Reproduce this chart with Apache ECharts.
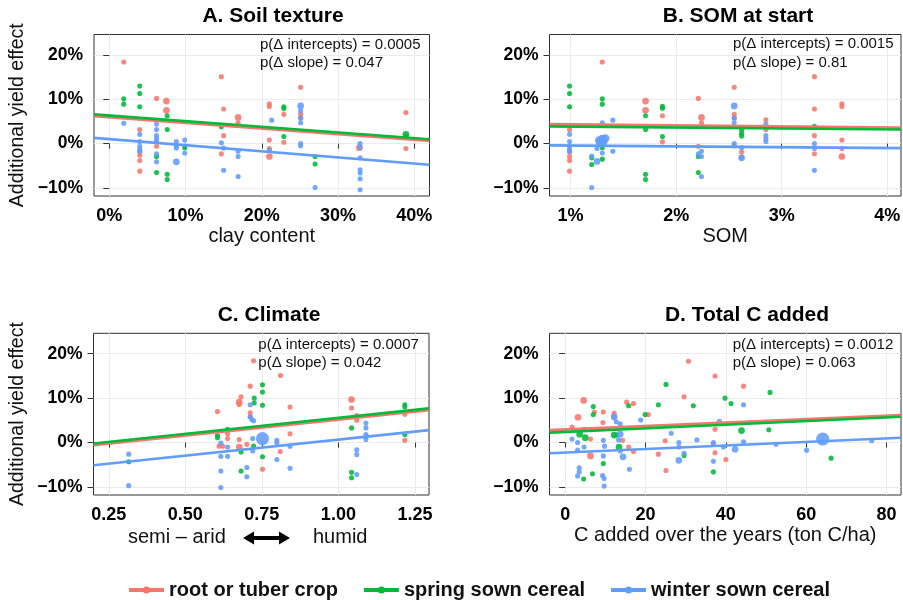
<!DOCTYPE html>
<html>
<head>
<meta charset="utf-8">
<script src="https://cdn.jsdelivr.net/npm/echarts@6/dist/echarts.min.js"></script>
<style>
  html, body { margin: 0; padding: 0; background: #fff; }
  #chart { width: 903px; height: 600px; }
</style>
</head>
<body>
<div id="chart"></div>
<script>
// ---- groups ----
const groupNames = ['root or tuber crop', 'spring sown cereal', 'winter sown cereal'];
const groupColors = ['#F8766D', '#00BA38', '#619CFF'];

// ---- shared y scale (additional yield effect, %) ----
const yRange = [-11.8, 24.6];
const yTicks = [-10, 0, 10, 20];

// ---- A. Soil texture: [clay %, yield effect %, weight] ----
const clayRoot = [[1.9,18.4,1],[14.7,15.1,1],[25.1,12.7,1],[21.0,9.0,1],[21.0,8.4,1],[7.5,9.6,2],[7.5,7.5,2],[6.2,10.2,1],[15.0,7.8,1],[16.9,5.9,2],[16.9,4.7,1],[22.9,6.6,1],[25.1,6.6,1],[25.1,5.9,1],[38.9,7.0,1],[4.0,3.2,1],[4.0,-1.9,1],[4.0,-2.6,1],[4.0,-3.8,1],[4.0,-6.2,1],[6.2,-0.6,1],[15.0,1.8,1],[14.7,-2.3,1],[21.0,0.8,1],[21.0,-1.1,1],[21.0,-2.9,2],[22.9,0.3,1],[38.9,-1.1,1],[32.8,-0.9,2]];
const claySpring = [[4.0,13.0,1],[4.0,11.3,1],[4.0,8.3,1],[1.9,10.1,1],[1.9,8.9,1],[7.6,6.3,1],[7.6,3.2,1],[6.2,-2.9,1],[6.2,-6.5,1],[7.6,-6.9,1],[7.6,-8.1,1],[9.9,-0.9,1],[14.7,3.8,1],[22.9,8.3,1],[22.9,7.9,1],[22.9,1.6,1],[27.0,-2.9,1],[27.0,-4.6,1],[38.9,2.1,2],[38.9,1.7,1]];
const clayWinter = [[1.9,4.6,1],[4.0,2.1,1],[4.0,0.5,1],[4.0,-0.6,1],[4.0,-1.3,1],[4.0,-1.7,1],[6.2,4.4,1],[6.2,3.2,1],[6.2,1.8,1],[6.2,1.1,1],[6.2,0.5,1],[6.2,-2.3,1],[6.2,-4.1,1],[8.8,0.5,1],[8.8,-0.4,1],[8.8,-1.0,1],[8.8,-4.1,2],[9.9,0.8,1],[9.9,-2.1,1],[14.7,0.2,1],[15.0,-1.0,1],[15.0,-6.0,1],[16.9,-1.7,1],[16.9,-2.9,1],[16.9,-7.4,1],[21.3,5.3,1],[21.0,-1.5,1],[25.1,8.5,2],[25.1,7.4,1],[25.1,5.7,1],[25.1,4.7,1],[25.1,0.0,1],[25.1,-0.5,1],[27.0,-9.9,1],[32.9,0.0,1],[32.9,-0.8,1],[32.9,-3.2,1],[32.9,-5.9,1],[32.9,-6.6,1],[32.9,-7.9,1],[32.9,-10.4,1]];
const clayRange = [-2, 42];
const clayTicks = [0, 10, 20, 30, 40];
// fitted lines: values at the left and right edge of the x range
const clayFitRoot = [6.2, 0.6];
const clayFitSpring = [6.6, 1.0];
const clayFitWinter = [1.3, -4.75];
const clayP = ['p(Δ intercepts) = 0.0005', 'p(Δ slope) = 0.047'];

// ---- B. SOM at start: [SOM %, yield effect %, weight] ----
const somRoot = [[1.30,18.4,1],[0.99,3.2,1],[0.99,-1.9,1],[0.99,-2.9,1],[0.99,-3.8,1],[0.99,-6.2,1],[1.71,9.6,2],[1.71,7.5,2],[1.87,6.3,1],[1.87,0.4,1],[2.21,10.2,1],[2.24,5.9,2],[2.24,4.7,1],[2.21,-0.6,1],[2.55,12.7,1],[2.55,6.6,1],[2.55,5.9,1],[2.62,-1.9,1],[2.62,-3.0,1],[2.85,5.4,1],[2.85,3.2,1],[3.31,15.1,1],[3.31,7.8,1],[3.31,1.8,1],[3.31,-2.3,1],[3.57,9.0,1],[3.57,8.4,1],[3.57,0.8,1],[3.57,-1.1,1],[3.57,-2.9,2]];
const somSpring = [[0.99,13.0,1],[0.99,11.3,1],[0.99,8.3,1],[1.30,10.1,1],[1.30,8.9,1],[1.30,-0.9,1],[1.30,-3.5,1],[1.20,-3.2,1],[1.20,-4.7,1],[1.71,6.3,1],[1.71,3.2,1],[1.71,-6.9,1],[1.71,-8.1,1],[1.87,8.4,1],[1.87,8.0,1],[1.87,1.6,1],[2.21,-2.9,1],[2.21,-6.5,1],[2.62,3.0,1],[2.62,2.3,1],[2.62,1.7,1],[3.31,3.9,1]];
const somWinter = [[0.99,2.1,1],[0.99,0.5,1],[0.99,-0.6,1],[0.99,-1.3,1],[0.99,-1.7,1],[1.20,-2.8,1],[1.20,-9.9,1],[1.25,-1.1,1],[1.25,-4.0,2],[1.30,4.7,1],[1.30,-2.1,1],[1.40,5.3,1],[1.40,-1.7,1],[1.28,0.3,3],[1.30,0.9,4],[1.33,1.2,3],[1.27,0.7,3],[1.31,0.4,3],[2.21,-2.3,1],[2.24,-1.7,1],[2.24,-2.9,1],[2.24,-7.4,1],[2.55,8.5,2],[2.55,5.7,1],[2.55,4.7,1],[2.55,0.0,1],[2.55,-0.5,1],[2.62,-0.9,1],[2.62,-3.2,2],[2.85,4.4,1],[2.85,1.8,1],[2.85,1.1,1],[2.85,0.5,1],[3.31,0.0,1],[3.31,-1.1,1],[3.31,-6.0,1]];
const somRange = [0.8, 4.13];
const somTicks = [1, 2, 3, 4];
const somFitRoot = [4.4, 3.6];
const somFitSpring = [3.9, 3.2];
const somFitWinter = [-0.4, -1.0];
const somP = ['p(Δ intercepts) = 0.0015', 'p(Δ slope) = 0.81'];

// ---- C. Climate: [climate index, yield effect %, weight] ----
const climRoot = [[0.723,18.4,1],[0.811,15.1,1],[0.712,12.7,1],[0.682,10.3,1],[0.676,9.1,2],[0.676,8.6,1],[0.605,7.0,1],[0.842,8.0,1],[0.712,6.7,1],[0.712,5.8,1],[0.638,2.0,1],[0.638,0.9,1],[0.61,-0.8,1],[0.622,-0.8,1],[0.676,0.7,1],[0.676,-1.0,2],[0.701,-0.4,1],[0.842,2.0,1],[0.810,-2.0,1],[0.752,-6.0,1],[1.043,9.7,2],[1.043,7.8,1],[1.06,6.1,1],[1.06,5.0,1],[1.217,6.4,1],[1.217,0.5,1]];
const climSpring = [[0.752,13.0,1],[0.752,11.4,1],[0.752,8.4,1],[0.725,10.0,1],[0.725,8.9,1],[0.605,1.6,1],[0.605,1.1,1],[0.638,3.0,1],[0.682,-2.1,1],[0.682,-6.4,1],[0.723,-0.8,1],[0.752,-3.2,1],[1.043,3.3,1],[1.043,-6.7,1],[1.043,-7.9,1],[1.217,8.5,1],[1.217,8.0,1],[1.217,1.8,1],[0.315,-4.3,1]];
const climWinter = [[0.315,-2.6,1],[0.315,-9.7,1],[0.616,-0.1,1],[0.616,-3.1,1],[0.616,-6.4,1],[0.616,-10.1,1],[0.638,-1.0,1],[0.638,-3.1,1],[0.701,-5.6,1],[0.701,-7.7,1],[0.712,8.5,1],[0.712,5.8,1],[0.717,5.2,1],[0.723,4.9,1],[0.72,0.9,1],[0.72,-1.9,1],[0.752,0.9,6],[0.799,0.5,1],[0.799,-0.1,1],[0.799,-3.8,1],[0.842,-0.8,1],[0.842,-5.8,1],[1.06,-1.6,1],[1.06,-2.7,1],[1.06,-7.2,1],[1.09,4.4,1],[1.09,3.3,1],[1.09,1.8,1],[1.09,1.3,1],[1.09,0.7,1]];
const climRange = [0.2, 1.296];
const climTicks = [0.25, 0.5, 0.75, 1.0, 1.25];
const climFitRoot = [-0.6, 7.3];
const climFitSpring = [-0.2, 7.7];
const climFitWinter = [-5.1, 2.8];
const climP = ['p(Δ intercepts) = 0.0007', 'p(Δ slope) = 0.042'];

// ---- D. Total C added: [ton C/ha, yield effect %, weight] ----
const cRoot = [[30.7,18.3,1],[37.3,15.0,1],[44.4,12.7,1],[29.6,10.3,1],[4.6,9.5,2],[15.3,9.1,1],[7.3,6.9,1],[9.5,6.9,1],[12.2,6.6,1],[17.0,8.8,1],[20.7,6.3,1],[3.2,5.7,2],[9.4,4.5,1],[12.2,5.7,1],[1.7,3.5,1],[6.3,0.8,1],[14.3,0.5,1],[24.9,0.4,1],[37.3,3.0,1],[36.9,-0.2,1],[15.8,-1.0,1],[17.0,-2.0,1],[6.3,-3.0,2],[23.2,-2.6,1],[37.3,-2.3,1],[40.0,-3.8,1],[25.1,-6.3,1]];
const cSpring = [[25.1,13.1,1],[51.0,11.3,1],[39.8,10.0,1],[7.0,8.1,1],[7.0,6.3,1],[15.8,8.3,1],[23.2,8.5,1],[31.9,8.3,1],[41.3,8.8,1],[19.9,6.3,1],[4.8,3.0,1],[3.6,1.9,2],[5.0,1.1,2],[12.2,1.7,2],[12.9,1.7,1],[13.4,-1.0,2],[43.9,2.7,2],[50.7,2.9,1],[9.5,-4.7,1],[6.8,-7.0,1],[4.6,-8.2,1],[29.6,-2.9,1],[36.9,-6.6,1],[66.2,-3.5,1]];
const cWinter = [[44.4,8.5,1],[12.2,5.8,2],[12.7,4.7,1],[13.7,4.2,1],[18.8,5.1,1],[38.4,4.8,1],[26.4,2.1,1],[13.7,1.9,2],[13.3,0.6,1],[1.7,0.8,1],[3.1,0.0,1],[9.5,0.5,1],[9.8,-0.8,1],[4.7,-1.0,1],[3.1,-1.7,1],[13.7,-1.9,1],[14.4,-3.2,2],[9.5,-3.0,1],[28.3,0.0,1],[28.3,-1.0,1],[29.6,-2.4,1],[28.3,-4.0,2],[32.8,0.6,1],[36.9,0.0,1],[39.4,-1.0,1],[42.3,-1.5,2],[44.4,0.2,1],[52.5,-0.4,1],[60.1,-1.7,1],[64.1,0.8,6],[76.3,0.4,1],[36.9,-4.2,1],[16.0,-6.0,1],[3.5,-5.7,1],[3.5,-6.6,1],[3.1,-7.5,1],[9.3,-7.4,1],[9.7,-8.1,1],[9.7,-9.8,1]];
const cRange = [-3.9, 83.6];
const cTicks = [0, 20, 40, 60, 80];
const cFitRoot = [2.8, 6.2];
const cFitSpring = [2.25, 5.8];
const cFitWinter = [-2.4, 1.1];
const cP = ['p(Δ intercepts) = 0.0012', 'p(Δ slope) = 0.063'];

const titles = ['A. Soil texture', 'B. SOM at start', 'C. Climate', 'D. Total C added'];
const yTitle = 'Additional yield effect';

// ---- layout ----
const FONT = "'Liberation Sans', Arial, Helvetica, sans-serif";
const grids = [
  { left: 94,    top: 34.5,  width: 335.5, height: 161.5 },
  { left: 549.5, top: 34.5,  width: 351.5, height: 161.5 },
  { left: 93.5,  top: 333.3, width: 335.5, height: 161.7 },
  { left: 549.5, top: 333.3, width: 351.5, height: 161.7 }
];

const panels = [
  { pts: [clayRoot, claySpring, clayWinter], fits: [clayFitRoot, clayFitSpring, clayFitWinter],
    range: clayRange, ticks: clayTicks, fmt: v => v + '%', xName: 'clay content', yName: yTitle, p: clayP },
  { pts: [somRoot, somSpring, somWinter], fits: [somFitRoot, somFitSpring, somFitWinter],
    range: somRange, ticks: somTicks, fmt: v => v + '%', xName: 'SOM', yName: '', p: somP },
  { pts: [climRoot, climSpring, climWinter], fits: [climFitRoot, climFitSpring, climFitWinter],
    range: climRange, ticks: climTicks, fmt: v => v.toFixed(2), xName: '', yName: yTitle, p: climP },
  { pts: [cRoot, cSpring, cWinter], fits: [cFitRoot, cFitSpring, cFitWinter],
    range: cRange, ticks: cTicks, fmt: v => String(v), xName: 'C added over the years (ton C/ha)', yName: '', p: cP }
];

const yFmt = v => (v < 0 ? '\u2212' + Math.abs(v) : String(v)) + '%';

const xAxes = [], yAxes = [], series = [];
panels.forEach((pn, i) => {
  xAxes.push({
    type: 'value', gridIndex: i, min: pn.range[0], max: pn.range[1],
    axisLine: { show: false },
    axisTick: { show: true, length: 5, customValues: pn.ticks, lineStyle: { color: '#333', width: 1 } },
    axisLabel: { customValues: pn.ticks, margin: 11, formatter: pn.fmt, fontFamily: FONT, fontSize: 18, fontWeight: 'bold', color: '#000' },
    splitLine: { show: true, lineStyle: { color: '#EBEBEB', width: 1 } },
    name: pn.xName, nameLocation: 'middle', nameGap: 30,
    nameTextStyle: { fontFamily: FONT, fontSize: 20, color: '#111' }
  });
  yAxes.push({
    type: 'value', gridIndex: i, min: yRange[0], max: yRange[1],
    axisLine: { show: false },
    axisTick: { show: true, length: 6, customValues: yTicks, lineStyle: { color: '#333', width: 1 } },
    axisLabel: { customValues: yTicks, margin: 11, formatter: yFmt, fontFamily: FONT, fontSize: 17.5, fontWeight: 'bold', color: '#000' },
    splitLine: { show: true, lineStyle: { color: '#EBEBEB', width: 1 } },
    name: pn.yName, nameLocation: 'middle', nameRotate: 90, nameGap: 66,
    nameTextStyle: { fontFamily: FONT, fontSize: 19.5, color: '#111' }
  });
  // regression lines first so the legend uses the line icon
  groupNames.forEach((g, k) => {
    series.push({
      type: 'line', name: g, xAxisIndex: i, yAxisIndex: i,
      data: [[pn.range[0], pn.fits[k][0]], [pn.range[1], pn.fits[k][1]]],
      showSymbol: false, symbol: 'circle', silent: true, z: 4,
      lineStyle: { color: groupColors[k], width: 2.6 },
      itemStyle: { color: groupColors[k] }
    });
  });
  groupNames.forEach((g, k) => {
    series.push({
      type: 'scatter', name: g, xAxisIndex: i, yAxisIndex: i,
      data: pn.pts[k], z: 2 + k * 0.1,
      symbolSize: v => 3.5 + 1.6 * v[2],
      itemStyle: { color: groupColors[k], opacity: 0.88 }
    });
  });
});

// panel titles and p-value annotations
const titlePos = [[273, 16], [738, 16], [269, 315.5], [747, 315.5]];
const pPos = [[260, 45, 63], [733, 44.3, 63.3], [258.3, 345, 363.3], [732.7, 345.3, 363.3]];
const graphics = [];
titles.forEach((t, i) => {
  graphics.push({ type: 'text', x: titlePos[i][0], y: titlePos[i][1], silent: true,
    style: { text: t, fontFamily: FONT, fontSize: 21, fontWeight: 'bold', fill: '#000', align: 'center', verticalAlign: 'middle' } });
  panels[i].p.forEach((line, j) => {
    graphics.push({ type: 'text', x: pPos[i][0], y: pPos[i][1 + j], silent: true, z: 10,
      style: { text: line, fontFamily: FONT, fontSize: 15, fill: '#111', align: 'left', verticalAlign: 'middle' } });
  });
});
// climate axis title: semi-arid <-> humid
const climateEnds = ['semi \u2013 arid', 'humid'];
graphics.push({ type: 'text', x: 128, y: 537, silent: true,
  style: { text: climateEnds[0], fontFamily: FONT, fontSize: 20, fill: '#111', align: 'left', verticalAlign: 'middle' } });
graphics.push({ type: 'text', x: 313, y: 537, silent: true,
  style: { text: climateEnds[1], fontFamily: FONT, fontSize: 20, fill: '#111', align: 'left', verticalAlign: 'middle' } });
graphics.push({ type: 'polygon', silent: true,
  shape: { points: [[243,538],[254,531.5],[254,536],[279,536],[279,531.5],[290,538],[279,544.5],[279,540],[254,540],[254,544.5]] },
  style: { fill: '#000' } });

const chart = echarts.init(document.getElementById('chart'), null, { renderer: 'canvas' });
chart.setOption({
  animation: false,
  backgroundColor: '#fff',
  textStyle: { fontFamily: FONT },
  grid: grids.map(g => Object.assign({ show: true, borderColor: '#333', borderWidth: 1, backgroundColor: '#fff', containLabel: false, outerBoundsMode: 'none' }, g)),
  xAxis: xAxes,
  yAxis: yAxes,
  legend: {
    data: groupNames, left: 122, top: 575, itemWidth: 35, itemHeight: 9, itemGap: 24,
    textStyle: { fontFamily: FONT, fontSize: 20, fontWeight: 'bold', color: '#111' },
    lineStyle: { width: 4 }
  },
  graphic: graphics,
  series: series
});
</script>
</body>
</html>
